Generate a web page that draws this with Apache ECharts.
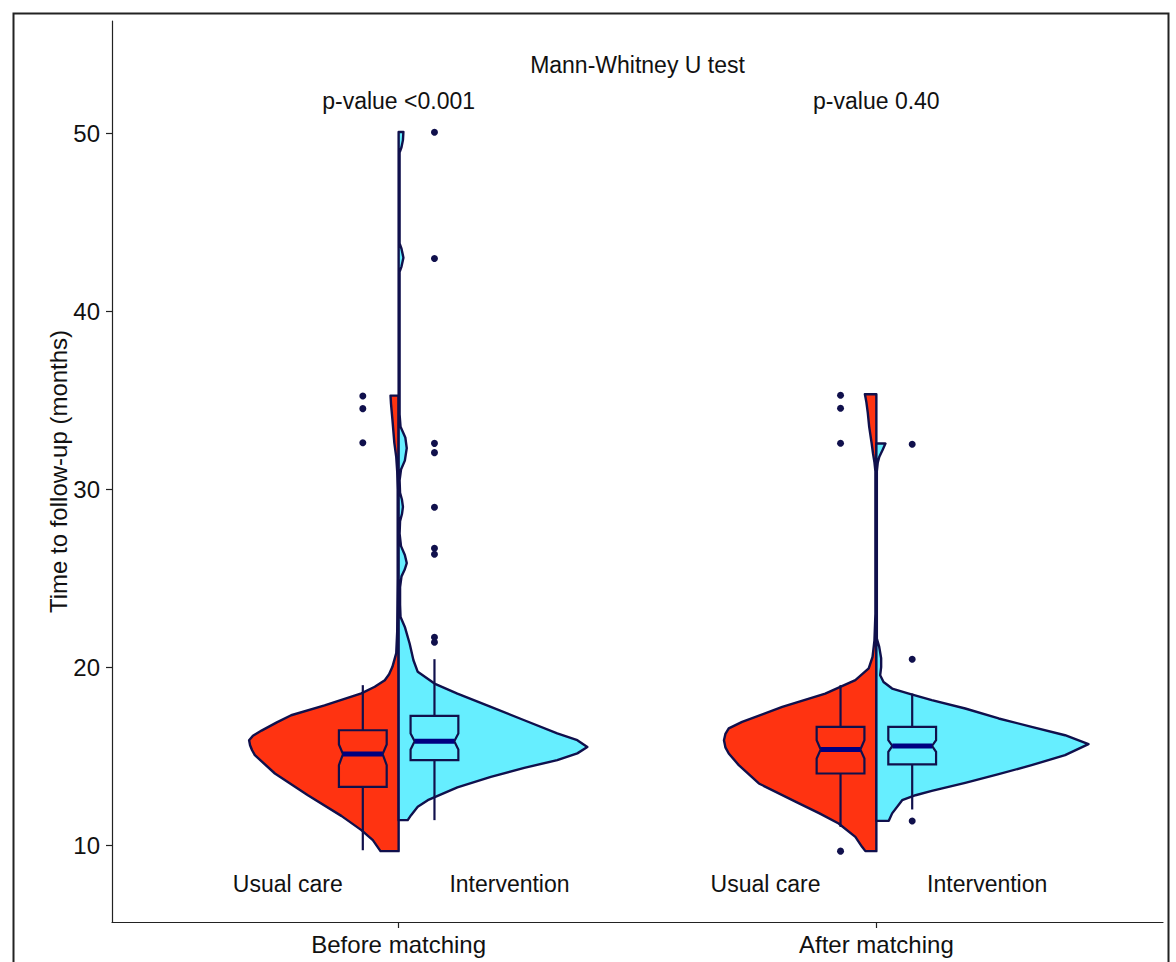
<!DOCTYPE html>
<html>
<head>
<meta charset="utf-8">
<script src="https://cdn.jsdelivr.net/npm/echarts@6/dist/echarts.min.js"></script>
<style>
html,body{margin:0;padding:0;background:#ffffff;}
#chart{width:1176px;height:962px;}
</style>
</head>
<body>
<div id="chart"></div>
<script>
// ---------------- data ----------------
const categories = ['Before matching', 'After matching'];
const groups = ['Usual care', 'Intervention'];
const yTicks = [10, 20, 30, 40, 50];
const yAxisTitle = 'Time to follow-up (months)';
const testTitle = 'Mann-Whitney U test';
const pValues = ['p-value <0.001', 'p-value 0.40'];

// violin half outlines: [months, half-width (x-axis units, scaled density)]
const violinBeforeUsual = [
  [9.67,0.038],[10.29,0.054],[10.85,0.078],[11.65,0.120],[12.81,0.190],[14.03,0.259],
  [15.06,0.301],[15.35,0.307],[15.62,0.311],[15.9,0.313],[16.15,0.305],[16.44,0.287],
  [16.9,0.255],[17.3,0.225],[17.86,0.155],[18.53,0.078],[18.9,0.050],[19.27,0.029],
  [19.6,0.020],[20.02,0.013],[20.79,0.005],[22,0.003],[25,0.002],[28,0.002],[30,0.002],
  [31,0.003],[31.8,0.005],[32.6,0.009],[33.9,0.013],[34.8,0.016],[35.25,0.017]
];
const violinBeforeIntervention = [
  [11.41,0.019],[11.69,0.026],[12.16,0.040],[12.53,0.061],[13.25,0.123],[13.84,0.193],
  [14.35,0.263],[14.78,0.332],[15.16,0.374],[15.52,0.395],[15.9,0.374],[16.28,0.332],
  [17.02,0.263],[17.77,0.193],[18.52,0.123],[19.08,0.075],[19.74,0.040],[20.39,0.031],
  [21.33,0.023],[22.26,0.013],[22.82,0.004],[23.5,0.003],[24.5,0.003],[25.1,0.006],
  [25.5,0.013],[25.85,0.017],[26.3,0.013],[26.8,0.005],[27.5,0.002],[28.2,0.003],
  [28.6,0.007],[29.0,0.009],[29.4,0.007],[29.8,0.003],[30.5,0.002],[31.1,0.005],
  [31.6,0.013],[32.3,0.017],[32.9,0.014],[33.5,0.004],[34.2,0.002],[42.2,0.002],
  [42.5,0.006],[43.0,0.010],[43.5,0.006],[43.8,0.002],[48.9,0.002],[49.2,0.006],
  [49.6,0.009],[50.06,0.010]
];
const violinAfterUsual = [
  [9.67,0.023],[9.91,0.030],[10.47,0.044],[11.22,0.079],[11.79,0.119],[12.35,0.162],
  [13.47,0.246],[14.5,0.288],[15.15,0.309],[15.5,0.316],[15.9,0.319],[16.25,0.316],
  [16.56,0.309],[16.93,0.281],[17.77,0.197],[18.52,0.107],[19.27,0.044],[19.93,0.016],
  [20.58,0.008],[21.5,0.004],[23,0.002],[27,0.002],[30,0.002],[31,0.002],[31.5,0.004],
  [32,0.007],[32.6,0.010],[33.5,0.015],[34.3,0.018],[34.9,0.021],[35.33,0.024]
];
const violinAfterIntervention = [
  [11.37,0.026],[11.79,0.033],[12.53,0.054],[12.81,0.082],[13.05,0.116],[13.5,0.186],
  [13.99,0.256],[14.5,0.325],[15.06,0.395],[15.68,0.444],[16.18,0.395],[16.65,0.325],
  [17.12,0.256],[17.68,0.186],[18.15,0.116],[18.52,0.068],[18.8,0.033],[19.17,0.015],
  [19.55,0.008],[20.0,0.010],[20.5,0.010],[21.14,0.006],[21.61,0.001],[25,0.001],
  [31,0.001],[31.5,0.003],[31.8,0.006],[32.2,0.013],[32.56,0.019]
];

// box statistics: [lower whisker, Q1, median, Q3, upper whisker, notch low, notch high]
const boxBeforeUsual = [9.72, 13.28, 15.12, 16.46, 18.99, 14.50, 15.66];
const boxBeforeIntervention = [11.41, 14.78, 15.84, 17.27, 20.45, 15.38, 16.28];
const boxAfterUsual = [11.03, 14.03, 15.38, 16.65, 18.99, 14.87, 15.90];
const boxAfterIntervention = [12.01, 14.54, 15.58, 16.65, 18.52, 15.24, 15.90];

// outliers (months)
const outBeforeUsual = [35.23, 34.52, 32.60];
const outBeforeIntervention = [50.04, 42.95, 32.57, 32.05, 28.98, 26.68, 26.34, 21.68, 21.40];
const outAfterUsual = [35.27, 34.54, 32.58, 9.67];
const outAfterIntervention = [32.52, 20.45, 11.36];

// ---------------- styling / layout ----------------
const RED = '#FF3311';
const CYAN = '#66EEFF';
const OUTLINE = '#10104c';
const MEDIAN = '#000080';
const TEXT = '#111111';
const FONT = 'Liberation Sans, Arial, sans-serif';
const BOX_OFFSET = 0.075, BOX_HALF = 0.05, NOTCH = 0.0085;
const LABEL_OFFSET = 0.232, LABEL_Y = 7.83, PVALUE_Y = 51.8, TITLE_Y = 53.8;

const halves = [
  {cat: 0, side: -1, color: RED,  outline: violinBeforeUsual,        box: boxBeforeUsual,        out: outBeforeUsual},
  {cat: 0, side:  1, color: CYAN, outline: violinBeforeIntervention, box: boxBeforeIntervention, out: outBeforeIntervention},
  {cat: 1, side: -1, color: RED,  outline: violinAfterUsual,         box: boxAfterUsual,         out: outAfterUsual},
  {cat: 1, side:  1, color: CYAN, outline: violinAfterIntervention,  box: boxAfterIntervention,  out: outAfterIntervention}
];

const annotations = [
  [1.5, TITLE_Y, testTitle],
  [1, PVALUE_Y, pValues[0]],
  [2, PVALUE_Y, pValues[1]]
];
categories.forEach((c, i) => {
  annotations.push([i + 1 - LABEL_OFFSET, LABEL_Y, groups[0]]);
  annotations.push([i + 1 + LABEL_OFFSET, LABEL_Y, groups[1]]);
});

function renderViolin(params, api) {
  const h = halves[params.dataIndex];
  const cx = h.cat + 1;
  const o = h.outline;
  const pts = [api.coord([cx, o[0][0]])];
  o.forEach(([y, w]) => pts.push(api.coord([cx + h.side * w, y])));
  pts.push(api.coord([cx, o[o.length - 1][0]]));
  return {
    type: 'polygon',
    shape: {points: pts},
    style: {fill: h.color, stroke: OUTLINE, lineWidth: 2.4, lineJoin: 'round'}
  };
}

function renderBox(params, api) {
  const h = halves[params.dataIndex];
  const bx = h.cat + 1 + h.side * BOX_OFFSET;
  const [lo, q1, med, q3, hi, nlo, nhi] = h.box;
  const L = bx - BOX_HALF, R = bx + BOX_HALF;
  const c = p => api.coord(p);
  const pts = [[L, q1], [R, q1], [R, nlo], [R - NOTCH, med], [R, nhi], [R, q3],
               [L, q3], [L, nhi], [L + NOTCH, med], [L, nlo]].map(c);
  const wTop1 = c([bx, q3]), wTop2 = c([bx, hi]);
  const wBot1 = c([bx, q1]), wBot2 = c([bx, lo]);
  const m1 = c([L + NOTCH, med]), m2 = c([R - NOTCH, med]);
  const lineStyle = {stroke: OUTLINE, lineWidth: 2.2};
  return {
    type: 'group',
    children: [
      {type: 'line', shape: {x1: wTop1[0], y1: wTop1[1], x2: wTop2[0], y2: wTop2[1]}, style: lineStyle},
      {type: 'line', shape: {x1: wBot1[0], y1: wBot1[1], x2: wBot2[0], y2: wBot2[1]}, style: lineStyle},
      {type: 'polygon', shape: {points: pts}, style: {fill: h.color, stroke: OUTLINE, lineWidth: 2.2}},
      {type: 'line', shape: {x1: m1[0], y1: m1[1], x2: m2[0], y2: m2[1]}, style: {stroke: MEDIAN, lineWidth: 5}}
    ]
  };
}

function renderText(params, api) {
  const a = annotations[params.dataIndex];
  const p = api.coord([a[0], a[1]]);
  return {
    type: 'text',
    x: p[0], y: p[1],
    style: {text: a[2], fill: TEXT, fontSize: 23, fontFamily: FONT, align: 'center', verticalAlign: 'middle'}
  };
}

const outlierData = [];
halves.forEach(h => h.out.forEach(v => outlierData.push([h.cat + 1 + h.side * BOX_OFFSET, v])));

const chart = echarts.init(document.getElementById('chart'), null, {renderer: 'svg'});
chart.setOption({
  animation: false,
  backgroundColor: '#ffffff',
  graphic: [{
    type: 'rect', left: 11, top: 11, z: -10,
    shape: {x: 0, y: 0, width: 1155, height: 1000},
    style: {fill: 'none', stroke: '#222222', lineWidth: 2}
  }],
  grid: {left: 112, right: 13, top: 21, bottom: 40, containLabel: false},
  xAxis: {
    type: 'value', min: 0.4, max: 2.6,
    axisLine: {show: true, onZero: false, lineStyle: {color: '#222222', width: 1.2}},
    axisTick: {show: true, customValues: [1, 2], length: 6, lineStyle: {color: '#222222', width: 1.2}},
    axisLabel: {customValues: [1, 2], formatter: v => categories[Math.round(v) - 1],
      fontSize: 24, color: TEXT, fontFamily: FONT, margin: 10},
    splitLine: {show: false}
  },
  yAxis: {
    type: 'value', min: 5.69, max: 56.29,
    name: yAxisTitle, nameLocation: 'middle', nameGap: 42, nameRotate: 90,
    nameMoveOverlap: false,
    nameTextStyle: {fontSize: 24, color: TEXT, fontFamily: FONT},
    axisLine: {show: true, onZero: false, lineStyle: {color: '#222222', width: 1.2}},
    axisTick: {show: true, customValues: yTicks, length: 6, lineStyle: {color: '#222222', width: 1.2}},
    axisLabel: {customValues: yTicks, fontSize: 24, color: TEXT, fontFamily: FONT, margin: 12},
    splitLine: {show: false}
  },
  series: [
    {type: 'custom', name: 'violins', renderItem: renderViolin,
     data: halves.map(h => [h.cat + 1, h.box[2]]), encode: {x: 0, y: 1}, silent: true, z: 1},
    {type: 'custom', name: 'boxes', renderItem: renderBox,
     data: halves.map(h => [h.cat + 1 + h.side * BOX_OFFSET, h.box[2]]), encode: {x: 0, y: 1}, silent: true, z: 2},
    {type: 'scatter', name: 'outliers', data: outlierData, symbol: 'circle', symbolSize: 7,
     itemStyle: {color: OUTLINE, opacity: 1}, silent: true, z: 3},
    {type: 'custom', name: 'annotations', renderItem: renderText,
     data: annotations.map(a => [a[0], a[1]]), encode: {x: 0, y: 1}, silent: true, z: 4}
  ]
});
</script>
</body>
</html>
